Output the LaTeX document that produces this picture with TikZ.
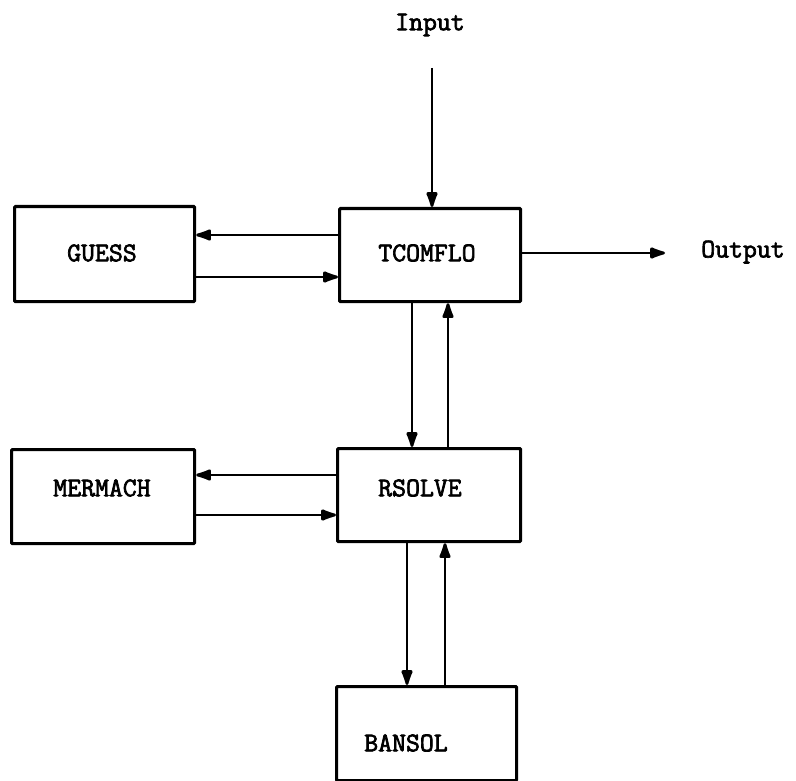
\documentclass[tikz,border=0pt]{standalone}
\usepackage{fontspec}
\usetikzlibrary{arrows.meta}
\newfontfamily\typewriter[FakeBold=2.5]{Latin Modern Mono}
\begin{document}
\begin{tikzpicture}[x=1pt,y=-1pt,
  block/.style={draw,line width=3.2pt,rounded corners=1pt,inner sep=0pt,anchor=north west},
  caption/.style={font=\fontsize{27}{30}\selectfont\typewriter,inner sep=0pt},
  flow/.style={line width=2.8pt,-{Latex[length=20pt,width=13pt,round]}}]
\useasboundingbox (0,0) rectangle (796,781);

% program blocks
\node[block,minimum width=180pt,minimum height=95pt] (guess) at (13,205) {};
\node[block,minimum width=181pt,minimum height=93pt] (tcomflo) at (338,207) {};
\node[block,minimum width=183pt,minimum height=94pt] (mermach) at (10,448) {};
\node[block,minimum width=183pt,minimum height=93pt] (rsolve) at (336,447) {};
\node[block,minimum width=180pt,minimum height=94pt] (bansol) at (335,685) {};

% block names
\node[caption] (guesstxt) at (102,253) {GUESS};
\node[caption] (tcomflotxt) at (427,253) {TCOMFLO};
\node[caption] (mermachtxt) at (102,488) {MERMACH};
\node[caption] (rsolvetxt) at (420,488) {RSOLVE};
\node[caption] (bansoltxt) at (406,743) {BANSOL};

% external input and output
\node[caption] (input) at (430,25) {Input};
\node[caption] (output) at (743,252) {Output};
\coordinate (instart) at (432,68);
\coordinate (outend) at (665,253);

% helper levels for the horizontal and vertical links
\coordinate (g1) at (0,235);
\coordinate (g2) at (0,277);
\coordinate (m1) at (0,475);
\coordinate (m2) at (0,515);
\coordinate (t1) at (412,0);
\coordinate (t2) at (448,0);
\coordinate (b1) at (407,0);
\coordinate (b2) at (445,0);

\draw[flow] (instart) -- (instart |- tcomflo.north);
\draw[flow] (tcomflo.east |- outend) -- (outend);

\draw[flow] (tcomflo.west |- g1) -- (guess.east |- g1);
\draw[flow] (guess.east |- g2) -- (tcomflo.west |- g2);

\draw[flow] (t1 |- tcomflo.south) -- (t1 |- rsolve.north);
\draw[flow] (t2 |- rsolve.north) -- (t2 |- tcomflo.south);

\draw[flow] (rsolve.west |- m1) -- (mermach.east |- m1);
\draw[flow] (mermach.east |- m2) -- (rsolve.west |- m2);

\draw[flow] (b1 |- rsolve.south) -- (b1 |- bansol.north);
\draw[flow] (b2 |- bansol.north) -- (b2 |- rsolve.south);
\end{tikzpicture}
\end{document}
